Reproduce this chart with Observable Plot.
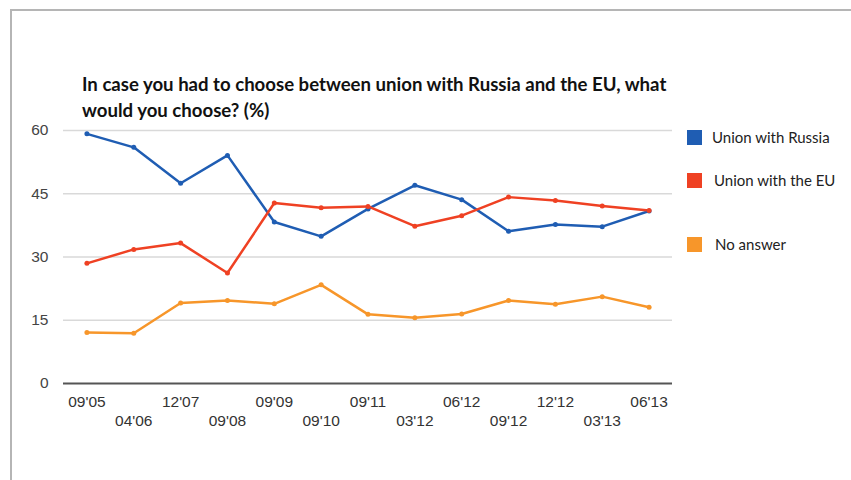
<!DOCTYPE html>
<html>
<head>
<meta charset="utf-8">
<script src="https://cdn.jsdelivr.net/npm/d3@7"></script>
<script src="https://cdn.jsdelivr.net/npm/@observablehq/plot@0.6"></script>
<style>
  html, body { margin: 0; padding: 0; background: #fff; }
  #wrap { position: relative; width: 851px; height: 480px; overflow: hidden; }
  #topb { position: absolute; left: 10px; top: 9px; width: 841px; height: 2px; background: #b5b5b5; }
  #leftb { position: absolute; left: 10px; top: 9px; width: 2px; height: 471px; background: #b5b5b5; }
  #title { position: absolute; left: 82px; top: 71px; font-family: Lato, "Open Sans", sans-serif; font-weight: bold; font-size: 18.6px; line-height: 26px; color: #111; white-space: nowrap; }
  #chart { position: absolute; left: 0; top: 0; }
  .leg { position: absolute; font-family: Lato, "Open Sans", sans-serif; font-size: 15px; color: #222; }
  .sw { position: absolute; width: 15px; height: 15px; }
</style>
</head>
<body>
<div id="wrap">
  <div id="chart"></div>
  <div id="topb"></div>
  <div id="leftb"></div>
  <div id="title">In case you had to choose between union with Russia and the EU, what<br>would you choose? (%)</div>
  <div id="legend"></div>
</div>
<script>
const dates = ["09'05","04'06","12'07","09'08","09'09","09'10","09'11","03'12","06'12","09'12","12'12","03'13","06'13"];
const russia = [59.2, 56.0, 47.5, 54.1, 38.3, 34.9, 41.4, 47.0, 43.6, 36.1, 37.7, 37.2, 40.9];
const eu = [28.5, 31.8, 33.3, 26.2, 42.8, 41.7, 42.0, 37.3, 39.8, 44.2, 43.4, 42.1, 41.0];
const noAnswer = [12.1, 11.9, 19.1, 19.7, 18.9, 23.4, 16.4, 15.6, 16.5, 19.7, 18.8, 20.6, 18.1];
const seriesNames = ["Union with Russia", "Union with the EU", "No answer"];
const seriesColors = ["#1f5db3", "#ef4123", "#f7962a"];
const yTicks = [0, 15, 30, 45, 60];

const rows = [];
[russia, eu, noAnswer].forEach((vals, s) => {
  vals.forEach((v, i) => rows.push({date: dates[i], value: v, series: seriesNames[s]}));
});

const evenDates = dates.filter((d, i) => i % 2 === 0);
const oddDates = dates.filter((d, i) => i % 2 === 1);

const chart = Plot.plot({
  width: 851,
  height: 480,
  marginLeft: 63,
  marginRight: 179,
  marginTop: 130,
  marginBottom: 97,
  style: {fontFamily: "'Liberation Sans', Arial, sans-serif", fontSize: "15.5px", background: "transparent", color: "#444"},
  x: {type: "point", domain: dates, padding: 0.5, round: false, label: null},
  y: {domain: [0, 60], label: null},
  color: {domain: seriesNames, range: seriesColors},
  marks: [
    Plot.gridY(yTicks.filter(d => d > 0), {stroke: "#d9d9d9", strokeOpacity: 1, strokeWidth: 1.5}),
    Plot.axisY({ticks: yTicks, tickSize: 0, tickPadding: 15, fontSize: 15.5, fill: "#444", label: null}),
    Plot.axisX({ticks: evenDates, tickSize: 0, tickPadding: 12, fontSize: 15.5, fill: "#333", label: null}),
    Plot.axisX({ticks: oddDates, tickSize: 0, tickPadding: 31, fontSize: 15.5, fill: "#333", label: null}),
    Plot.ruleY([0], {stroke: "#555", strokeWidth: 2}),
    Plot.line(rows, {x: "date", y: "value", z: "series", stroke: "series", strokeWidth: 2.5}),
    Plot.dot(rows, {x: "date", y: "value", fill: "series", r: 2.5})
  ]
});
document.getElementById("chart").appendChild(chart);

// legend
const legend = document.getElementById("legend");
const legTops = [130, 173, 237];
const legTextX = [712, 714, 715];
seriesNames.forEach((name, i) => {
  const sw = document.createElement("div");
  sw.className = "sw";
  sw.style.left = "687px";
  sw.style.top = legTops[i] + "px";
  sw.style.background = seriesColors[i];
  legend.appendChild(sw);
  const t = document.createElement("div");
  t.className = "leg";
  t.style.left = legTextX[i] + "px";
  t.style.top = (legTops[i] - 2) + "px";
  t.textContent = name;
  legend.appendChild(t);
});
</script>
</body>
</html>
